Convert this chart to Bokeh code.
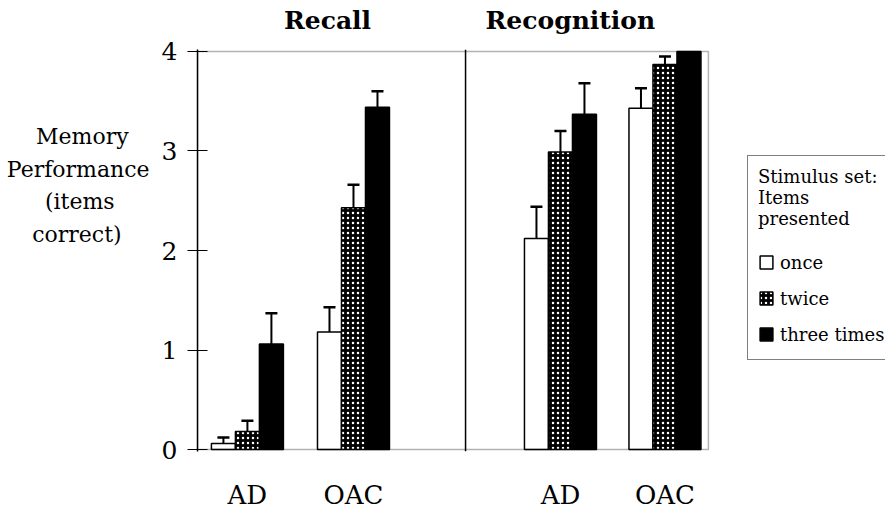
from bokeh.plotting import figure
from bokeh.models import (ColumnDataSource, Range1d, LinearAxis, FixedTicker, Whisker,
                          TeeHead, Span, Legend, LegendItem, BoxAnnotation)
from bokeh.embed import file_html
from bokeh.resources import INLINE

# ---------------- data ----------------
panels = ["Recall", "Recognition"]
groups = ["AD", "OAC", "AD", "OAC"]
series = ["once", "twice", "three times"]

once = [0.06, 1.18, 2.12, 3.43]
twice = [0.18, 2.43, 2.99, 3.87]
three = [1.06, 3.44, 3.37, 4.00]

once_err = [0.06, 0.25, 0.32, 0.20]
twice_err = [0.11, 0.23, 0.21, 0.08]
three_err = [0.31, 0.16, 0.31, 0.00]

y_ticks = [0, 1, 2, 3, 4]
y_title_lines = ["Memory", "Performance", "(items", "correct)"]
legend_heading = ["Stimulus set:", "Items", "presented"]

# ---------------- layout ----------------
group_x = [2.08, 6.5, 15.125, 19.48]
bar_w = 1.0
divider_x = 11.17
chart_right = 21.29             # right edge of the boxed chart area (x units)
view_right = 28.67              # frame continues to the right to host the legend
panel_title_x = [5.42, 15.54]
y_title_pad = [3, 0, 5, 4]      # no-break spaces that centre each line of the y title
NBSP = "\u00a0"

FONT = "DejaVu Serif"

p = figure(width=885, height=512, x_range=Range1d(0, view_right), y_range=Range1d(-0.02, 4.02),
           x_axis_type=None, y_axis_type=None,
           output_backend="svg", toolbar_location=None,
           min_border_left=197, min_border_right=0, min_border_top=49, min_border_bottom=59)
p.outline_line_color = None
p.background_fill_color = "white"
p.border_fill_color = "white"

# chart box
p.add_layout(BoxAnnotation(left=0, right=chart_right, bottom=0, top=4,
                           fill_alpha=0, line_color="black", line_width=1.5, level="overlay"))

# y axis with horizontal multi-line title
yaxis = LinearAxis(ticker=FixedTicker(ticks=y_ticks))
yaxis.major_tick_in = 10
yaxis.major_tick_out = 10
yaxis.major_tick_line_color = "black"
yaxis.major_tick_line_width = 1.2
yaxis.minor_tick_line_color = None
yaxis.axis_line_color = "black"
yaxis.axis_line_width = 1.5
yaxis.major_label_text_font = FONT
yaxis.major_label_text_font_size = "25px"
yaxis.major_label_text_color = "black"
yaxis.major_label_standoff = 10
title_lines = [ln + NBSP * k for ln, k in zip(y_title_lines, y_title_pad)]
yaxis.axis_label = "\n".join(title_lines + [NBSP] * 4)
yaxis.axis_label_text_font = FONT
yaxis.axis_label_text_font_size = "22px"
yaxis.axis_label_text_font_style = "normal"
yaxis.axis_label_text_color = "black"
yaxis.axis_label_text_line_height = 1.3
yaxis.axis_label_standoff = 9
if "axis_label_orientation" in LinearAxis.properties():
    yaxis.axis_label_orientation = "horizontal"
p.add_layout(yaxis, "left")

# group labels below
xaxis = LinearAxis(ticker=FixedTicker(ticks=group_x))
xaxis.major_label_overrides = {g: name for g, name in zip(group_x, groups)}
xaxis.axis_line_color = None
xaxis.major_tick_line_color = None
xaxis.minor_tick_line_color = None
xaxis.major_label_text_font = FONT
xaxis.major_label_text_font_size = "26px"
xaxis.major_label_text_color = "black"
xaxis.major_label_standoff = 22
p.add_layout(xaxis, "below")

# panel titles above
taxis = LinearAxis(ticker=FixedTicker(ticks=panel_title_x))
taxis.major_label_overrides = {t: name for t, name in zip(panel_title_x, panels)}
taxis.axis_line_color = None
taxis.major_tick_line_color = None
taxis.minor_tick_line_color = None
taxis.major_label_text_font = FONT
taxis.major_label_text_font_size = "25px"
taxis.major_label_text_font_style = "bold"
taxis.major_label_text_color = "black"
taxis.major_label_standoff = 9
p.add_layout(taxis, "above")

p.add_layout(Span(location=divider_x, dimension="height", line_color="black", line_width=1.5))

values = [once, twice, three]
errors = [once_err, twice_err, three_err]
styles = [
    dict(fill_color="white"),
    dict(fill_color="black", hatch_pattern="dot", hatch_color="white", hatch_scale=5, hatch_weight=2),
    dict(fill_color="black"),
]
renderers = []
for i, (vals, errs, st) in enumerate(zip(values, errors, styles)):
    xs = [g + (i - 1) * bar_w for g in group_x]
    src = ColumnDataSource(dict(x=xs, top=vals))
    r = p.vbar(x="x", top="top", bottom=0, width=bar_w, source=src,
               line_color="black", line_width=1.5, **st)
    renderers.append(r)
    wx = [x for x, e in zip(xs, errs) if e > 0]
    wl = [v for v, e in zip(vals, errs) if e > 0]
    wu = [v + e for v, e in zip(vals, errs) if e > 0]
    wsrc = ColumnDataSource(dict(base=wx, lower=wl, upper=wu))
    p.add_layout(Whisker(source=wsrc, base="base", lower="lower", upper="upper",
                         dimension="height", line_color="black", line_width=2,
                         upper_head=TeeHead(size=12, line_width=2.5, line_color="black"),
                         lower_head=None, level="overlay"))

legend = Legend(items=[LegendItem(label=s, renderers=[r]) for s, r in zip(series, renderers)],
                location=(550, 91), title="\n".join(legend_heading),
                title_text_font=FONT, title_text_font_size="18px", title_text_font_style="normal",
                title_text_color="black", title_standoff=18, title_text_line_height=1.4,
                label_text_font=FONT, label_text_font_size="18px", label_text_color="black",
                glyph_width=16, glyph_height=16, label_height=30, spacing=6,
                padding=10, margin=0, label_standoff=6,
                border_line_color="black", border_line_width=1.5,
                background_fill_color="white", background_fill_alpha=1.0)
p.add_layout(legend)

open("out.html", "w").write(file_html(p, INLINE))
